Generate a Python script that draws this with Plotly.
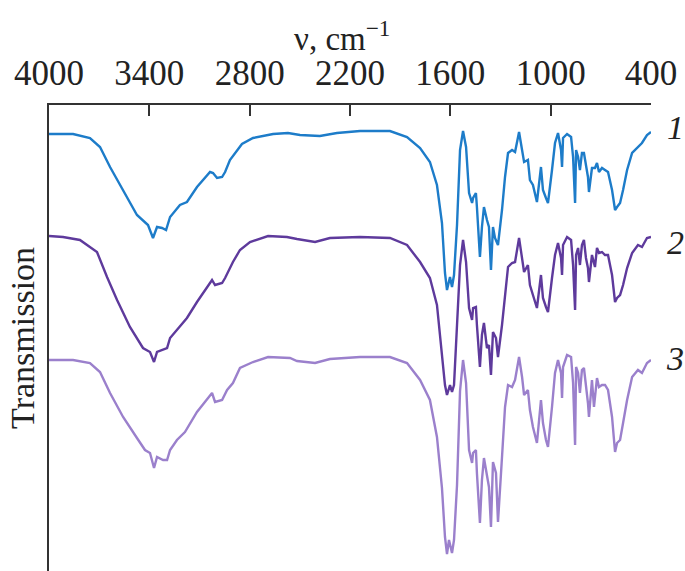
"""IR spectra of samples 1-3, offset stacked, wavenumber axis on top."""
import plotly.graph_objects as go

# wavenumber (cm-1) and transmission (arbitrary units, stacked)
WN_1 = [4000, 3856, 3755, 3695, 3635, 3557, 3474, 3408, 3378, 3354, 3324, 3300, 3276, 3217, 3175,
        3115, 3037, 3019, 2995, 2965, 2947, 2918, 2876, 2846, 2780, 2660, 2571, 2499, 2380, 2278,
        2140, 1961, 1859, 1781, 1722, 1680, 1650, 1632, 1620, 1602, 1590, 1578, 1560, 1542, 1524,
        1506, 1488, 1470, 1464, 1447, 1441, 1423, 1411, 1399, 1381, 1369, 1357, 1345, 1333, 1315,
        1291, 1273, 1255, 1231, 1213, 1189, 1171, 1159, 1136, 1124, 1106, 1082, 1058, 1046, 1028,
        1016, 992, 974, 956, 938, 932, 926, 902, 878, 866, 854, 848, 836, 825, 813, 801, 789, 777,
        771, 753, 735, 723, 711, 693, 675, 657, 633, 615, 603, 585, 567, 543, 513, 478, 454, 424, 400]
T_1 = [437, 437, 433, 424, 404, 381, 356, 346, 333, 344, 343, 341, 354, 366, 369,
       384, 399, 398, 393, 394, 399, 411, 421, 427, 433, 437, 438, 436, 435, 438,
       440, 440, 434, 423, 409, 386, 348, 298, 281, 294, 284, 296, 346, 421, 440,
       424, 378, 368, 373, 378, 364, 314, 344, 364, 351, 344, 301, 344, 333, 326,
       361, 394, 418, 421, 419, 439, 421, 409, 411, 391, 386, 369, 404, 381, 373,
       368, 401, 428, 438, 421, 404, 433, 437, 434, 414, 368, 421, 414, 401, 418, 418, 404, 394,
       379, 403, 403, 408, 399, 403, 401, 399, 381, 361, 364, 368, 381, 401, 418, 424, 428, 436, 439]

WN_2 = [4000, 3916, 3815, 3713, 3653, 3593, 3516, 3438, 3396, 3372, 3354, 3318, 3294, 3276, 3199,
        3175, 3115, 3025, 3007, 2965, 2947, 2900, 2858, 2798, 2690, 2577, 2517, 2409, 2320, 2140,
        1961, 1859, 1781, 1722, 1680, 1650, 1632, 1620, 1602, 1590, 1578, 1560, 1542, 1524, 1506,
        1488, 1470, 1464, 1447, 1441, 1423, 1411, 1399, 1381, 1369, 1357, 1345, 1327, 1315, 1291,
        1273, 1255, 1231, 1213, 1189, 1171, 1159, 1136, 1124, 1106, 1082, 1058, 1046, 1028, 1016,
        992, 974, 956, 938, 932, 926, 902, 878, 866, 854, 848, 836, 825, 813, 801, 789, 777, 771,
        753, 735, 723, 711, 693, 675, 657, 633, 615, 603, 585, 567, 543, 513, 478, 454, 424, 400]
T_2 = [335, 334, 331, 319, 294, 271, 244, 223, 219, 209, 219, 221, 223, 233, 249,
       253, 269, 291, 286, 288, 293, 309, 321, 329, 335, 334, 332, 329, 333, 334,
       333, 326, 309, 293, 266, 219, 186, 176, 186, 179, 186, 246, 306, 331, 309,
       263, 251, 263, 264, 246, 204, 236, 248, 223, 226, 196, 239, 233, 214, 246,
       279, 304, 308, 309, 333, 313, 299, 306, 286, 276, 263, 296, 273, 264, 259,
       293, 316, 328, 313, 296, 326, 334, 331, 306, 261, 316, 323, 306, 326, 331, 313, 303, 289,
       316, 304, 323, 318, 319, 316, 316, 296, 269, 273, 276, 286, 303, 318, 326, 324, 333, 334]

WN_3 = [4000, 3856, 3755, 3695, 3635, 3557, 3474, 3426, 3396, 3372, 3354, 3318, 3294, 3276, 3235,
        3187, 3115, 3025, 3007, 2965, 2935, 2900, 2858, 2780, 2690, 2559, 2517, 2409, 2320, 2140,
        1961, 1859, 1781, 1722, 1680, 1650, 1632, 1620, 1608, 1590, 1578, 1560, 1542, 1524, 1506,
        1488, 1470, 1464, 1447, 1441, 1423, 1411, 1399, 1381, 1369, 1357, 1345, 1327, 1315, 1291,
        1273, 1255, 1231, 1213, 1189, 1171, 1159, 1136, 1124, 1106, 1082, 1058, 1046, 1028, 1016,
        992, 974, 956, 938, 932, 926, 902, 878, 866, 854, 848, 836, 825, 813, 801, 789, 777, 771,
        753, 741, 723, 711, 693, 675, 657, 633, 615, 603, 585, 567, 543, 513, 478, 454, 424, 400]
T_3 = [211, 211, 208, 199, 178, 154, 133, 121, 118, 103, 114, 111, 111, 121, 131,
       139, 159, 178, 169, 171, 181, 188, 203, 209, 214, 213, 210, 208, 212, 214,
       214, 208, 191, 171, 134, 83, 34, 17, 31, 18, 31, 86, 180, 211, 188,
       121, 108, 118, 121, 98, 48, 91, 113, 94, 84, 44, 109, 98, 49, 114,
       164, 186, 184, 191, 214, 194, 176, 181, 161, 144, 128, 171, 148, 131, 124,
       164, 198, 211, 198, 173, 204, 216, 214, 188, 126, 204, 198, 178, 201, 203, 188, 168, 154,
       191, 164, 193, 184, 186, 186, 181, 154, 119, 128, 131, 148, 171, 194, 201, 198, 208, 211]

SERIES = [("1", WN_1, T_1, "#1d7cc9"),
          ("2", WN_2, T_2, "#5e3a9c"),
          ("3", WN_3, T_3, "#9b80cc")]
LABEL_Y = [444, 329, 213]
TICKS = [4000, 3400, 2800, 2200, 1600, 1000, 400]

SERIF = "Liberation Serif, Times New Roman, serif"

fig = go.Figure()
for (name, wn, t, colour), ly in zip(SERIES, LABEL_Y):
    fig.add_trace(go.Scatter(x=wn, y=t, mode="lines", name=name,
                             line={"color": colour, "width": 2.4}))
    fig.add_annotation(x=1.04, xref="paper", y=ly, yref="y", text=f"<i>{name}</i>",
                       xanchor="center", yanchor="middle", showarrow=False,
                       font={"family": SERIF, "size": 34, "color": "#222"})

fig.add_annotation(x=0.487, xref="paper", y=1.147, yref="paper", text="ν, cm<sup>−1</sup>",
                   xanchor="center", yanchor="middle", showarrow=False,
                   font={"family": SERIF, "size": 33, "color": "#222"})
fig.add_annotation(x=-0.045, xref="paper", y=0.5, yref="paper", text="Transmission",
                   textangle=-90, xanchor="center", yanchor="middle", showarrow=False,
                   font={"family": SERIF, "size": 34, "color": "#222"})

fig.update_xaxes(side="top", range=[4000, 400], tickvals=TICKS, ticks="inside",
                 ticklen=11, tickwidth=2, tickcolor="#333", showline=True, linewidth=2,
                 linecolor="#333", showgrid=False, zeroline=False, automargin=False,
                 ticklabelstandoff=4,
                 tickfont={"family": SERIF, "size": 35, "color": "#222"})
fig.update_yaxes(range=[0, 466], showline=True, linewidth=2, linecolor="#333",
                 showticklabels=False, ticks="", showgrid=False, zeroline=False,
                 automargin=False)
fig.update_layout(width=685, height=571, margin={"l": 49, "r": 34, "t": 105, "b": 0},
                  plot_bgcolor="white", paper_bgcolor="white", showlegend=False)

# drop the page's default body margin so the 685x571 figure fills the window exactly
fig.write_html("out.html", config={"displayModeBar": False},
               post_script="document.body.style.margin='0';document.body.style.overflow='hidden';")
